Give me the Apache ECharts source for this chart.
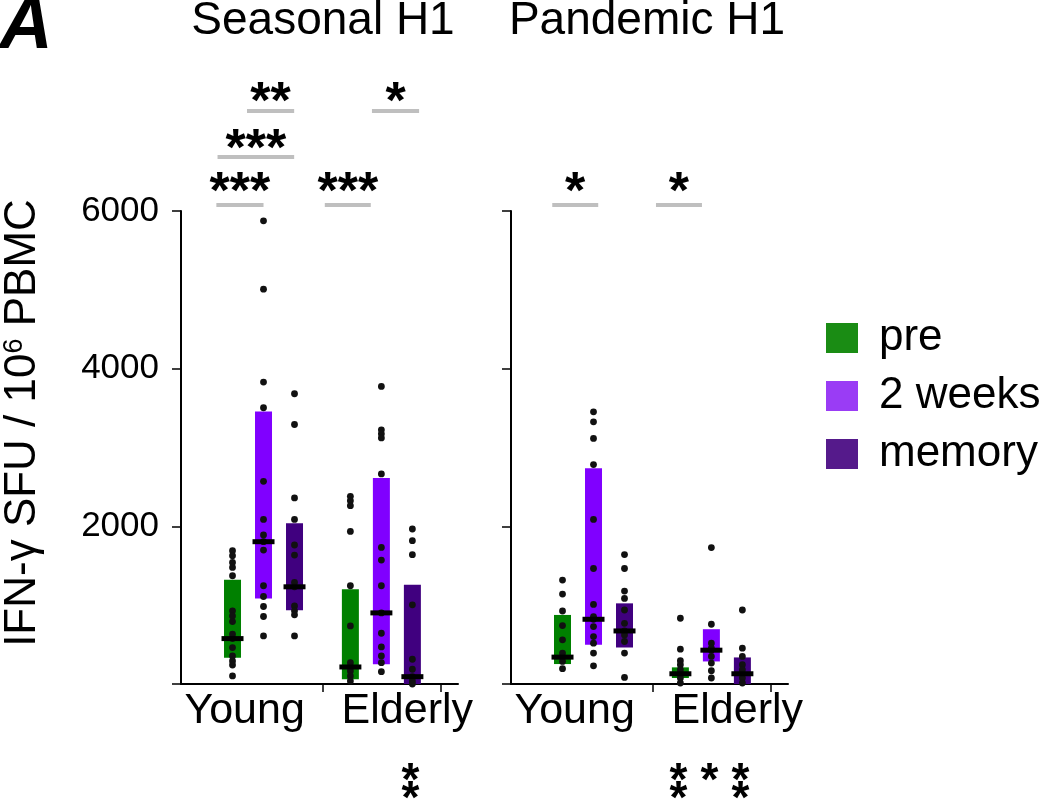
<!DOCTYPE html>
<html><head><meta charset="utf-8">
<script src="https://cdn.jsdelivr.net/npm/echarts@6/dist/echarts.min.js"></script>
<style>html,body{margin:0;padding:0;background:#fff}#c{width:1050px;height:800px}</style>
</head><body><div id="c"></div>
<script>
// ---------- data ----------
const groups = ['Young', 'Elderly'];
const timepoints = ['pre', '2 weeks', 'memory'];
const panelTitles = ['Seasonal H1', 'Pandemic H1'];
const yTickValues = [0, 2000, 4000, 6000];

// box stats [q1, median, q3] for [Young, Elderly]
const seasonalPreStats = [[334, 576, 1322], [60, 216, 1203]];
const seasonal2wkStats = [[1084, 1805, 3457], [250, 902, 2614]];
const seasonalMemStats = [[936, 1233, 2038], [0, 93, 1258]];
const pandemicPreStats = [[253, 341, 876], [76, 130, 211]];
const pandemic2wkStats = [[497, 821, 2737], [286, 429, 695]];
const pandemicMemStats = [[463, 673, 1023], [0, 130, 337]];

// individual donors [Young values, Elderly values]
const seasonalPreDots = [
  [1690, 1627, 1542, 1479, 1373, 928, 864, 792, 631, 576, 462, 356, 292, 241, 102],
  [2381, 2326, 2262, 1936, 1246, 737, 271, 216, 165, 102, 38]
];
const seasonal2wkDots = [
  [5876, 5008, 3830, 3504, 2571, 2088, 1890, 1805, 1699, 1246, 1110, 983, 856, 610],
  [3775, 3224, 3173, 3122, 2665, 1733, 1572, 1246, 902, 644, 470, 356, 271, 156]
];
const seasonalMemDots = [
  [3682, 3292, 2360, 2088, 1763, 1636, 1288, 1233, 991, 928, 877, 610],
  [1966, 1818, 1640, 1004, 314, 187, 93, 38, 0]
];
const pandemicPreDots = [
  [1318, 1141, 926, 741, 560, 392, 341, 286, 194],
  [834, 442, 295, 244, 181, 130, 76, 13]
];
const pandemic2wkDots = [
  [3452, 3326, 3115, 2783, 2088, 1465, 1010, 855, 821, 729, 602, 518, 392, 231],
  [1730, 758, 518, 455, 429, 350, 265, 168, 76]
];
const pandemicMemDots = [
  [1642, 1465, 1179, 1086, 939, 770, 673, 623, 539, 392, 84],
  [939, 455, 350, 244, 181, 130, 76, 13]
];

// significance brackets: [panel, fromX, toX, label] (x in axis units, Young = 0, Elderly = 1)
const sigLevel0 = [[0, -0.40, 0.00, '***'], [0, 0.52, 0.91, '***'], [1, -0.35, 0.04, '*'], [1, 0.53, 0.92, '*']];
const sigLevel1 = [[0, -0.39, 0.26, '***']];
const sigLevel2 = [[0, -0.14, 0.26, '**'], [0, 0.92, 1.32, '*']];
// stars under the axis: [panel, group, timepoint, rows]
const bottomStars = [[0, 1, 2, 2], [1, 1, 0, 2], [1, 1, 1, 1], [1, 1, 2, 2]];

// ---------- styling ----------
const FONT = '"Liberation Sans", Arial, Helvetica, sans-serif';
const barColors = ['#008000', '#8000ff', '#40007f'];
const legendColors = ['#1a8c14', '#9a3cf5', '#551a8b'];
const tpOffset = [-0.263, 0, 0.263];
const BAR_W = 17, MED_W = 22, MED_H = 5, DOT_R = 3.4;
const gridLefts = [181, 511];

const statsByPanel = [[seasonalPreStats, seasonal2wkStats, seasonalMemStats],
                      [pandemicPreStats, pandemic2wkStats, pandemicMemStats]];
const dotsByPanel = [[seasonalPreDots, seasonal2wkDots, seasonalMemDots],
                     [pandemicPreDots, pandemic2wkDots, pandemicMemDots]];

function barRender(off) {
  return function (params, api) {
    const x = api.value(0) + off;
    const lo = api.coord([x, api.value(1)]);
    const hi = api.coord([x, api.value(3)]);
    return { type: 'rect', shape: { x: lo[0] - BAR_W / 2, y: hi[1], width: BAR_W, height: lo[1] - hi[1] },
             style: { fill: api.visual('color') } };
  };
}
function medRender(off) {
  return function (params, api) {
    const x = api.value(0) + off;
    const p = api.coord([x, api.value(2)]);
    return { type: 'rect', shape: { x: p[0] - MED_W / 2, y: p[1] - MED_H / 2, width: MED_W, height: MED_H },
             style: { fill: '#000' } };
  };
}
function dotRender(off) {
  return function (params, api) {
    const x = api.value(0) + off;
    const p = api.coord([x, api.value(1)]);
    return { type: 'circle', shape: { cx: p[0], cy: p[1], r: DOT_R }, style: { fill: '#111' } };
  };
}

const grids = [], xAxes = [], yAxes = [], series = [];
for (let p = 0; p < 2; p++) {
  grids.push({ left: gridLefts[p], top: 211, width: 277, height: 473 });
  xAxes.push({
    type: 'value', gridIndex: p, min: -0.7, max: 1.65,
    splitLine: { show: false },
    axisLine: { show: true, onZero: false, lineStyle: { color: '#000', width: 2 } },
    axisTick: { show: true, customValues: [0.5, 1.5], length: 8, lineStyle: { color: '#000', width: 1.5 } },
    axisLabel: { customValues: [-0.16, 1.22], formatter: v => (v < 0.5 ? groups[0] : groups[1]),
                 fontSize: 43, color: '#000', fontFamily: FONT, margin: 6 }
  });
  yAxes.push({
    type: 'value', gridIndex: p, min: 0, max: 6000, interval: 2000,
    splitLine: { show: false },
    axisLine: { show: true, onZero: false, lineStyle: { color: '#000', width: 2 } },
    axisTick: { show: true, length: 9, lineStyle: { color: '#000', width: 1.5 } },
    axisLabel: { show: p === 0, fontSize: 35, color: '#000', fontFamily: FONT, margin: 22,
                 formatter: v => (yTickValues.indexOf(v) > 0 ? String(v) : '') }
  });
  for (let t = 0; t < 3; t++) {
    const stats = statsByPanel[p][t];
    const boxData = stats.map((s, g) => [g, s[0], s[1], s[2]]);
    const dotData = [];
    dotsByPanel[p][t].forEach((arr, g) => arr.forEach(v => dotData.push([g, v])));
    series.push({
      type: 'custom', name: timepoints[t], xAxisIndex: p, yAxisIndex: p, z: 2, clip: false,
      itemStyle: { color: barColors[t] }, renderItem: barRender(tpOffset[t]),
      encode: { x: 0, y: [1, 2, 3] }, data: boxData
    });
    series.push({
      type: 'custom', name: timepoints[t] + ' donors', xAxisIndex: p, yAxisIndex: p, z: 3, clip: false,
      renderItem: dotRender(tpOffset[t]), encode: { x: 0, y: 1 }, data: dotData
    });
    series.push({
      type: 'custom', name: timepoints[t] + ' median', xAxisIndex: p, yAxisIndex: p, z: 4, clip: false,
      renderItem: medRender(tpOffset[t]), encode: { x: 0, y: [1, 2, 3] }, data: boxData
    });
  }
}

const chart = echarts.init(document.getElementById('c'), null, { renderer: 'canvas' });
chart.setOption({
  animation: false,
  backgroundColor: '#fff',
  textStyle: { fontFamily: FONT },
  grid: grids, xAxis: xAxes, yAxis: yAxes, series: series,
  legend: {
    orient: 'vertical', left: 821, top: 311, itemWidth: 32, itemHeight: 30, itemGap: 14,
    icon: 'rect', selectedMode: false,
    textStyle: { fontSize: 44, color: '#000', fontFamily: FONT, padding: [0, 0, 0, 16], lineHeight: 30 },
    data: timepoints.map((t, i) => ({ name: t, itemStyle: { color: legendColors[i] } }))
  }
});

// ---------- annotations ----------
function px(panel, x) { return chart.convertToPixel({ xAxisIndex: panel }, x); }
const graphics = [];
const textEl = (text, x, y, size, extra) => ({
  type: 'text', x: x, y: y, silent: true,
  style: Object.assign({ text: text, font: size + 'px ' + FONT, fill: '#000', align: 'center', verticalAlign: 'middle' }, extra || {})
});
graphics.push(textEl('A', 26, 28, 74, { font: 'italic bold 74px ' + FONT }));
graphics.push(textEl(panelTitles[0], 323, 21, 46));
graphics.push(textEl(panelTitles[1], 647, 21, 46));
graphics.push({
  type: 'text', x: 23, y: 423, rotation: Math.PI / 2, silent: true,
  style: {
    text: '{n|IFN-γ SFU / 10}{s|6}{n| PBMC}', align: 'center', verticalAlign: 'middle', fill: '#000',
    rich: { n: { fontSize: 44, fontFamily: FONT, fill: '#000' },
            s: { fontSize: 27, fontFamily: FONT, fill: '#000', padding: [0, 0, 17, 0] } }
  }
});
const STAR = 52;
[[sigLevel0, 205, 182], [sigLevel1, 157, 139], [sigLevel2, 111, 92]].forEach(([list, ly, sy]) => {
  list.forEach(([panel, a, b, label]) => {
    const x1 = px(panel, a), x2 = px(panel, b);
    graphics.push({ type: 'line', silent: true, shape: { x1: x1, y1: ly, x2: x2, y2: ly },
                    style: { stroke: '#bfbfbf', lineWidth: 4 } });
    graphics.push(textEl(label, (x1 + x2) / 2, sy + 0.225 * STAR, STAR, { font: 'bold ' + STAR + 'px ' + FONT }));
  });
});
const BSTAR = 46;
bottomStars.forEach(([panel, g, t, rows]) => {
  const x = px(panel, g + tpOffset[t]) - 2;
  for (let r = 0; r < rows; r++) graphics.push(textEl('*', x, 772 + r * 18 + 0.225 * BSTAR, BSTAR, { font: 'bold ' + BSTAR + 'px ' + FONT }));
});
chart.setOption({ graphic: graphics });
</script></body></html>
